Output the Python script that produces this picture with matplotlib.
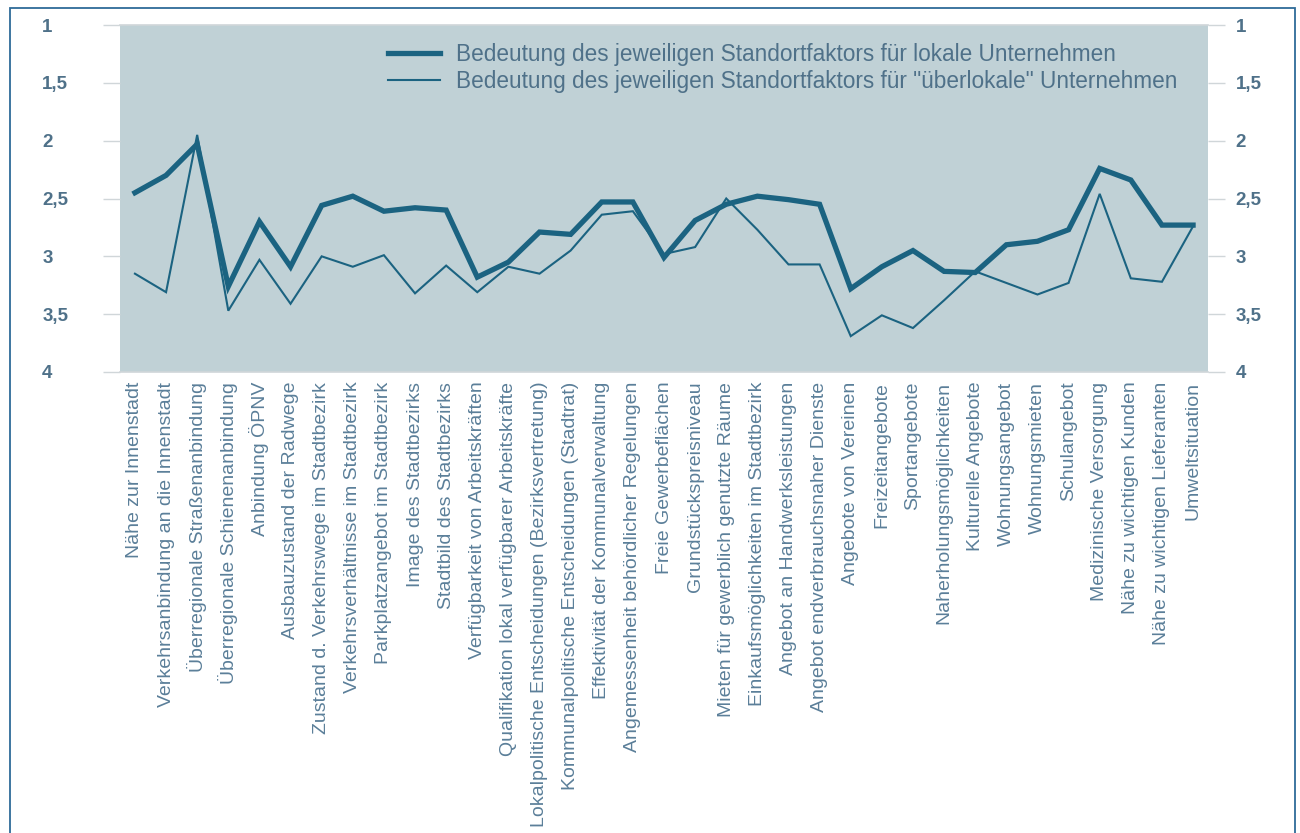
import matplotlib
matplotlib.use("Agg")
import matplotlib.pyplot as plt
from matplotlib.patches import Rectangle
from matplotlib.lines import Line2D
import matplotlib.transforms as mtransforms

categories = [
    "Nähe zur Innenstadt",
    "Verkehrsanbindung an die Innenstadt",
    "Überregionale Straßenanbindung",
    "Überregionale Schienenanbindung",
    "Anbindung ÖPNV",
    "Ausbauzustand der Radwege",
    "Zustand d. Verkehrswege im Stadtbezirk",
    "Verkehrsverhältnisse im Stadtbezirk",
    "Parkplatzangebot im Stadtbezirk",
    "Image des Stadtbezirks",
    "Stadtbild des Stadtbezirks",
    "Verfügbarkeit von Arbeitskräften",
    "Qualifikation lokal verfügbarer Arbeitskräfte",
    "Lokalpolitische Entscheidungen (Bezirksvertretung)",
    "Kommunalpolitische Entscheidungen (Stadtrat)",
    "Effektivität der Kommunalverwaltung",
    "Angemessenheit behördlicher Regelungen",
    "Freie Gewerbeflächen",
    "Grundstückspreisniveau",
    "Mieten für gewerblich genutzte Räume",
    "Einkaufsmöglichkeiten im Stadtbezirk",
    "Angebot an Handwerksleistungen",
    "Angebot endverbrauchsnaher Dienste",
    "Angebote von Vereinen",
    "Freizeitangebote",
    "Sportangebote",
    "Naherholungsmöglichkeiten",
    "Kulturelle Angebote",
    "Wohnungsangebot",
    "Wohnungsmieten",
    "Schulangebot",
    "Medizinische Versorgung",
    "Nähe zu wichtigen Kunden",
    "Nähe zu wichtigen Lieferanten",
    "Umweltsituation",
]

lokal = [2.45, 2.30, 2.03, 3.26, 2.70, 3.09, 2.56, 2.48, 2.61, 2.58,
         2.60, 3.18, 3.05, 2.79, 2.81, 2.53, 2.53, 3.01, 2.69, 2.55,
         2.48, 2.51, 2.55, 3.28, 3.09, 2.95, 3.13, 3.14, 2.90, 2.87,
         2.77, 2.24, 2.34, 2.73, 2.73]

ueberlokal = [3.15, 3.31, 1.95, 3.47, 3.03, 3.41, 3.00, 3.09, 2.99, 3.32,
              3.08, 3.31, 3.09, 3.15, 2.95, 2.64, 2.61, 2.98, 2.92, 2.50,
              2.77, 3.07, 3.07, 3.69, 3.51, 3.62, 3.38, 3.13, 3.23, 3.33,
              3.23, 2.46, 3.19, 3.22, 2.74]

y_ticks = [1, 1.5, 2, 2.5, 3, 3.5, 4]
y_tick_labels = ["1", "1,5", "2", "2,5", "3", "3,5", "4"]

legend_labels = [
    "Bedeutung des jeweiligen Standortfaktors für lokale Unternehmen",
    'Bedeutung des jeweiligen Standortfaktors für "überlokale" Unternehmen',
]

line_color = "#1b6381"
bg_color = "#c0d1d6"
text_color = "#4f7189"
label_color = "#5b7f99"
font = "Liberation Sans"

W, H = 1300, 833
fig = plt.figure(figsize=(W / 100, H / 100), dpi=100)
fig.patch.set_facecolor("white")

# outer frame
fig.patches.append(Rectangle((10 / W, -0.01), (1295 - 10) / W, 1 - 8 / H + 0.01,
                             transform=fig.transFigure, fill=False,
                             edgecolor="#2e6b98", linewidth=1.3))

ax = fig.add_axes([120 / W, 1 - 372 / H, (1208 - 120) / W, (372 - 25) / H])
ax.set_facecolor(bg_color)

x = list(range(len(categories)))
ax.plot(x, lokal, color=line_color, linewidth=3.8, solid_joinstyle="miter", zorder=3)
ax.plot(x, ueberlokal, color=line_color, linewidth=1.5, solid_joinstyle="miter", zorder=2)

ax.set_xlim(-0.48, len(categories) - 1 + 0.48)
ax.set_ylim(4, 1)

for s in ["left", "right"]:
    ax.spines[s].set_visible(False)
for s in ["top", "bottom"]:
    ax.spines[s].set_color("#d0d6d9")
    ax.spines[s].set_linewidth(1.2)

ax.set_yticks(y_ticks)
ax.set_yticklabels(y_tick_labels)
ax.tick_params(axis="y", which="both", left=True, right=True, labelleft=True,
               labelright=True, length=12, width=1.0, color="#d0d6d9",
               labelsize=13.5, labelcolor=text_color, pad=8)
offset = mtransforms.ScaledTranslation(-(120 - 42 - 17 - 11) / 100, 0, fig.dpi_scale_trans)
for t in ax.yaxis.get_major_ticks():
    t.label1.set_horizontalalignment("left")
    t.label1.set_fontfamily(font)
    t.label1.set_fontweight("bold")
    t.label2.set_fontfamily(font)
    t.label2.set_fontweight("bold")
    t.label1.set_transform(t.label1.get_transform() + offset)

ax.set_xticks(x)
ax.set_xticklabels(categories, rotation=90, fontsize=14, color=label_color,
                   fontfamily=font, va="top", ha="center")
ax.tick_params(axis="x", length=0, pad=7)

handles = [Line2D([0], [0], color=line_color, linewidth=3.8),
           Line2D([0], [0], color=line_color, linewidth=1.5)]
leg = ax.legend(handles, legend_labels, loc="upper left",
                bbox_to_anchor=((368 - 120) / (1208 - 120), 1 - (23 - 25) / (372 - 25)),
                frameon=False, handlelength=2.3, handletextpad=0.7,
                labelspacing=0.15, prop={"family": font, "size": 16.3})
for txt in leg.get_texts():
    txt.set_color(text_color)

fig.savefig("out.png", dpi=100)
